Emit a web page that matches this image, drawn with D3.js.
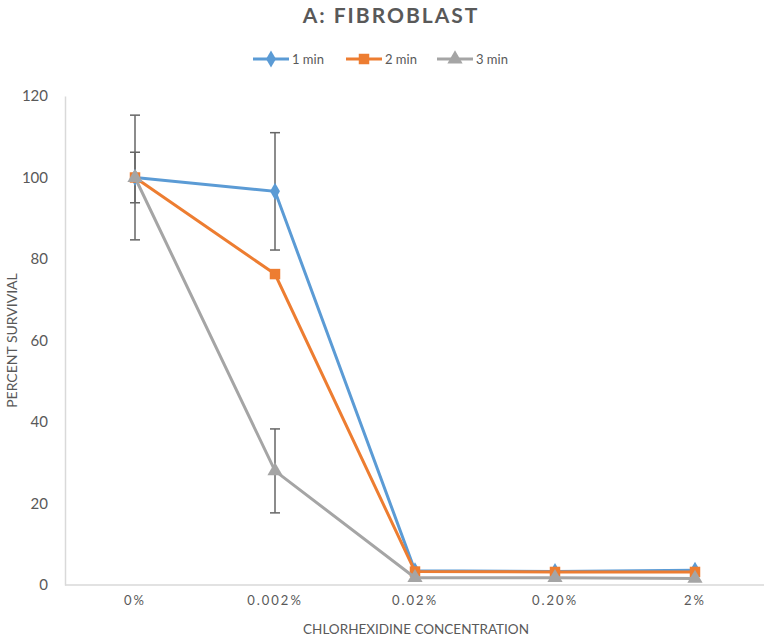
<script src="https://d3js.org/d3.v7.min.js"></script>
<style>
  body { margin: 0; background: #fff; }
  text { font-family: Lato, "Open Sans", sans-serif; fill: #595959; }
</style>
<div id="chart"></div>
<script>
// data
var categories = ["0%", "0.002%", "0.02%", "0.20%", "2%"];
var seriesNames = ["1 min", "2 min", "3 min"];
var min1 = [100, 96.6, 3.5, 3.3, 3.6];
var min2 = [100, 76.3, 3.3, 3.2, 3.2];
var min3 = [100, 28, 1.8, 1.8, 1.6];
var err1 = [15.3, 14.4, 0, 0, 0];
var err2 = [6.2, 0, 0, 0, 0];
var err3 = [0, 10.3, 0, 0, 0];
var yTicks = [0, 20, 40, 60, 80, 100, 120];

var colors = ["#5b9bd5", "#ed7d31", "#a5a5a5"];
var shapes = [d3.symbolDiamond, d3.symbolSquare, d3.symbolTriangle];
var shapeSize = [85, 110, 100];

var W = 769, H = 637;
var margin = {top: 96, right: 5, bottom: 52, left: 65};
var width = W - margin.left - margin.right,
    height = H - margin.top - margin.bottom;

var svg = d3.select("#chart").append("svg")
    .attr("width", W).attr("height", H);

var g = svg.append("g")
    .attr("transform", "translate(" + margin.left + "," + margin.top + ")");

var x = d3.scaleBand().domain(categories).range([0, 700]);
var y = d3.scaleLinear().domain([0, 120]).range([height, 0]);

// y axis
var yAxis = g.append("g").call(d3.axisLeft(y).tickValues(yTicks).tickSize(0).tickPadding(17));
yAxis.select(".domain").attr("stroke", "#d9d9d9").attr("stroke-width", 1.5);
yAxis.selectAll("text").style("font-size", "15px").attr("fill", "#595959");

// x axis
var xAxis = g.append("g").attr("transform", "translate(0," + height + ")")
    .call(d3.axisBottom(x).tickSize(0).tickPadding(11));
xAxis.select(".domain").attr("stroke", "#d9d9d9").attr("stroke-width", 1.5)
    .attr("d", "M0,0H" + width);
xAxis.selectAll("text").style("font-size", "13px").style("letter-spacing", "2px").attr("fill", "#595959");

var all = [min1, min2, min3];
var errs = [err1, err2, err3];
var cx = function(i) { return x(categories[i]) + x.bandwidth() / 2; };

// error bars
errs.forEach(function(e, s) {
  var pts = e.map(function(v, i) { return {i: i, v: all[s][i], e: v}; }).filter(function(d) { return d.e > 0; });
  var eg = g.append("g").attr("stroke", "#666").attr("stroke-width", 1.5);
  pts.forEach(function(d) {
    eg.append("line").attr("x1", cx(d.i)).attr("x2", cx(d.i))
      .attr("y1", y(d.v + d.e)).attr("y2", y(d.v - d.e));
    [d.v + d.e, d.v - d.e].forEach(function(val) {
      eg.append("line").attr("x1", cx(d.i) - 5).attr("x2", cx(d.i) + 5)
        .attr("y1", y(val)).attr("y2", y(val));
    });
  });
});

// lines and markers
var line = d3.line().x(function(d, i) { return cx(i); }).y(function(d) { return y(d); });
all.forEach(function(vals, s) {
  g.append("path").datum(vals).attr("d", line)
    .attr("fill", "none").attr("stroke", colors[s]).attr("stroke-width", 3);
  g.selectAll(".m" + s).data(vals).enter().append("path")
    .attr("transform", function(d, i) { return "translate(" + cx(i) + "," + y(d) + ")"; })
    .attr("d", d3.symbol().type(shapes[s]).size(shapeSize[s]))
    .attr("fill", colors[s]);
});

// title
svg.append("text").attr("x", 391).attr("y", 23).attr("text-anchor", "middle")
  .style("font-size", "21px").style("font-weight", "bold").style("letter-spacing", "2px")
  .text("A: FIBROBLAST");

// legend
var legendX = [253, 346, 437];
seriesNames.forEach(function(n, s) {
  var lg = svg.append("g").attr("transform", "translate(" + legendX[s] + ",59)");
  lg.append("line").attr("x1", 0).attr("x2", 36).attr("stroke", colors[s]).attr("stroke-width", 3);
  lg.append("path").attr("transform", "translate(18,0)")
    .attr("d", d3.symbol().type(shapes[s]).size(shapeSize[s])).attr("fill", colors[s]);
  lg.append("text").attr("x", 39).attr("y", 5).style("font-size", "13px").text(n);
});

// axis titles
svg.append("text").attr("x", 416).attr("y", 634).attr("text-anchor", "middle")
  .style("font-size", "13.5px").text("CHLORHEXIDINE CONCENTRATION");
svg.append("text").attr("transform", "translate(17," + (margin.top + height / 2) + ") rotate(-90)")
  .attr("text-anchor", "middle").style("font-size", "14px").text("PERCENT SURVIVIAL");
</script>
